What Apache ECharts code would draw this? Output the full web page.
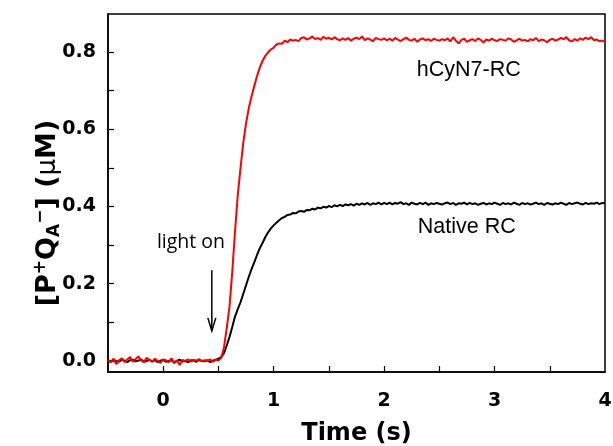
<!DOCTYPE html>
<html>
<head>
<meta charset="utf-8">
<script src="https://cdn.jsdelivr.net/npm/echarts@6/dist/echarts.min.js"></script>
<style>html,body{margin:0;padding:0;background:#fff}#c{width:613px;height:446px}</style>
</head>
<body>
<div id="c"></div>
<script>
// sampling grid: t = T_START + i * T_STEP (s)
const T_START = -0.5;
const T_STEP = 0.025;

// Native RC, [P+QA-] (uM)
const nativeRC = [
0.002,-0.001,0.003,0.000,-0.002,0.004,0.001,-0.003,0.002,0.003,
-0.001,0.001,0.004,-0.002,0.000,0.003,-0.001,0.002,-0.003,0.001,
0.003,-0.002,0.000,0.002,-0.004,0.001,0.003,-0.001,0.000,-0.003,
0.002,0.001,-0.002,0.003,0.000,-0.001,0.002,-0.003,0.001,0.003,
0.006,
0.010,0.020,0.040,0.062,0.088,0.115,0.134,0.152,0.174,0.196,
0.218,0.238,0.256,0.275,0.292,0.306,0.321,0.333,0.343,0.351,
0.358,0.364,0.370,0.373,0.378,0.379,0.383,0.382,0.387,0.388,
0.386,0.391,0.390,0.394,0.392,0.397,0.395,0.399,0.397,0.401,
0.398,0.403,0.400,0.404,0.401,0.405,0.403,0.406,0.402,0.407,
0.404,0.408,0.405,0.409,0.404,0.408,0.406,0.410,0.405,0.409,
0.406,0.410,0.405,0.409,0.407,0.411,0.406,0.408,0.404,0.410,
0.407,0.405,0.409,0.406,0.410,0.404,0.408,0.406,0.409,0.407,
0.405,0.408,0.410,0.406,0.409,0.404,0.408,0.407,0.410,0.405,
0.409,0.406,0.408,0.404,0.407,0.409,0.405,0.408,0.406,0.410,
0.407,0.404,0.409,0.406,0.408,0.405,0.410,0.407,0.404,0.409,
0.406,0.408,0.405,0.407,0.410,0.406,0.408,0.404,0.409,0.407,
0.405,0.408,0.406,0.410,0.407,0.404,0.409,0.406,0.408,0.410,
0.407,0.405,0.409,0.406,0.408,0.407,0.410,0.406,0.409,0.408
];

// hCyN7-RC, [P+QA-] (uM)
const hCyN7RC = [
0.003,-0.004,0.006,-0.008,0.002,0.007,-0.003,0.004,0.010,-0.002,
0.005,0.012,0.001,-0.003,0.008,0.003,-0.002,0.006,0.000,-0.005,
0.004,0.002,-0.003,0.007,-0.006,0.001,-0.010,0.003,0.000,0.004,
-0.002,0.003,0.001,0.005,-0.001,0.002,0.000,0.004,-0.002,0.003,
0.001,
0.008,0.035,0.085,0.140,0.230,0.335,0.430,0.500,0.565,0.615,
0.655,0.685,0.712,0.738,0.760,0.777,0.790,0.799,0.806,0.811,
0.819,0.822,0.821,0.829,0.825,0.832,0.829,0.831,0.828,0.836,
0.838,0.832,0.835,0.840,0.833,0.836,0.831,0.839,0.834,0.837,
0.832,0.838,0.833,0.830,0.835,0.831,0.836,0.829,0.834,0.837,
0.833,0.840,0.830,0.835,0.832,0.828,0.836,0.833,0.831,0.835,
0.830,0.834,0.829,0.836,0.832,0.828,0.833,0.837,0.831,0.829,
0.834,0.826,0.832,0.835,0.830,0.833,0.828,0.834,0.831,0.829,
0.833,0.830,0.835,0.827,0.838,0.829,0.822,0.831,0.834,0.826,
0.830,0.833,0.828,0.835,0.831,0.824,0.832,0.829,0.834,0.830,
0.828,0.833,0.831,0.829,0.835,0.832,0.826,0.830,0.834,0.829,
0.831,0.827,0.833,0.830,0.836,0.828,0.832,0.830,0.825,0.831,
0.834,0.829,0.832,0.836,0.833,0.838,0.830,0.827,0.833,0.829,
0.835,0.831,0.837,0.833,0.838,0.830,0.832,0.828,0.829,0.826
];

const xLabelTicks = [0, 1, 2, 3, 4];
const xTickValues = [0, 0.5, 1, 1.5, 2, 2.5, 3, 3.5];
const yLabelTicks = [0, 0.2, 0.4, 0.6, 0.8];
const yTickValues = [0, 0.1, 0.2, 0.3, 0.4, 0.5, 0.6, 0.7, 0.8];

function pairs(arr) { return arr.map((v, i) => [T_START + i * T_STEP, v]); }

const chart = echarts.init(document.getElementById('c'), null, {renderer: 'canvas'});
const FONT = 'DejaVu Sans, Liberation Sans, sans-serif';
const option = {
  animation: false,
  backgroundColor: '#fff',
  grid: {left: 108, right: 8, top: 14, bottom: 74, outerBoundsMode: 'none', containLabel: false, show: true, borderColor: '#000', borderWidth: 1.5, backgroundColor: 'transparent'},
  xAxis: {
    type: 'value', min: -0.5, max: 4,
    name: 'Time (s)', nameLocation: 'middle', nameGap: 50, nameMoveOverlap: false,
    nameTextStyle: {fontFamily: FONT, fontWeight: 'bold', fontSize: 24, color: '#000'},
    axisLine: {show: true, onZero: false, lineStyle: {color: '#000', width: 1.5}},
    axisTick: {show: true, inside: true, length: 6, lineStyle: {color: '#000', width: 1.2}, customValues: xTickValues},
    axisLabel: {show: true, margin: 20, fontFamily: FONT, fontWeight: 'bold', fontSize: 19, color: '#000', customValues: xLabelTicks, formatter: v => String(Math.round(v))},
    splitLine: {show: false}
  },
  yAxis: {
    type: 'value', min: -0.0285, max: 0.898,
    nameLocation: 'middle', nameGap: 44, nameRotate: 90, nameMoveOverlap: false,
    name: '{b|[P}{sup|+}{b|Q}{sub|A}{sup|\u2212}{b|] (}{mu|\u03bc}{b|M)}',
    nameTextStyle: {
      color: '#000',
      padding: [0, 40, 0, 0],
      rich: {
        b: {fontFamily: FONT, fontWeight: 'bold', fontSize: 27, color: '#000'},
        mu: {fontFamily: 'DejaVu Sans, sans-serif', fontSize: 26, color: '#000'},
        sup: {fontFamily: FONT, fontWeight: 'bold', fontSize: 17, color: '#000', padding: [0, 0, 15, 0]},
        sub: {fontFamily: FONT, fontWeight: 'bold', fontSize: 17, color: '#000', padding: [13, 0, 0, 0]}
      }
    },
    axisLine: {show: true, onZero: false, lineStyle: {color: '#000', width: 1.5}},
    axisTick: {show: true, inside: true, length: 6, lineStyle: {color: '#000', width: 1.2}, customValues: yTickValues},
    axisLabel: {show: true, margin: 12, fontFamily: FONT, fontWeight: 'bold', fontSize: 19, color: '#000', customValues: yLabelTicks, formatter: v => v.toFixed(1)},
    splitLine: {show: false}
  },
  series: [
    {name: 'Native RC', type: 'line', data: pairs(nativeRC), showSymbol: false, symbol: 'none', lineStyle: {color: '#000', width: 2}, z: 2},
    {name: 'hCyN7-RC', type: 'line', data: pairs(hCyN7RC), showSymbol: false, symbol: 'none', lineStyle: {color: '#ff0000', width: 2}, z: 3}
  ]
};
chart.setOption(option);

// annotations placed in data coordinates
function px(x, y) { return chart.convertToPixel({gridIndex: 0}, [x, y]); }
const pH = px(2.296, 0.754);
const pN = px(2.305, 0.347);
const pL = px(-0.057, 0.308);
const aTop = px(0.44, 0.235);
const aTip = px(0.44, 0.078);
chart.setOption({
  graphic: [
    {type: 'text', x: pH[0], y: pH[1], style: {text: 'hCyN7-RC', font: '21.5px Liberation Sans, Arial, sans-serif', fill: '#000', textVerticalAlign: 'middle', textAlign: 'left'}},
    {type: 'text', x: pN[0], y: pN[1], style: {text: 'Native RC', font: '21.5px Liberation Sans, Arial, sans-serif', fill: '#000', textVerticalAlign: 'middle', textAlign: 'left'}},
    {type: 'text', x: pL[0], y: pL[1], style: {text: 'light on', font: '19.5px Open Sans, sans-serif', fill: '#000', textVerticalAlign: 'middle', textAlign: 'left'}},
    {type: 'line', shape: {x1: aTop[0], y1: aTop[1], x2: aTip[0], y2: aTip[1]}, style: {stroke: '#000', lineWidth: 1.5}},
    {type: 'polyline', shape: {points: [[aTip[0] - 4, aTip[1] - 13], [aTip[0], aTip[1]], [aTip[0] + 4, aTip[1] - 13]]}, style: {stroke: '#000', lineWidth: 1.5, fill: null}}
  ]
});
</script>
</body>
</html>
